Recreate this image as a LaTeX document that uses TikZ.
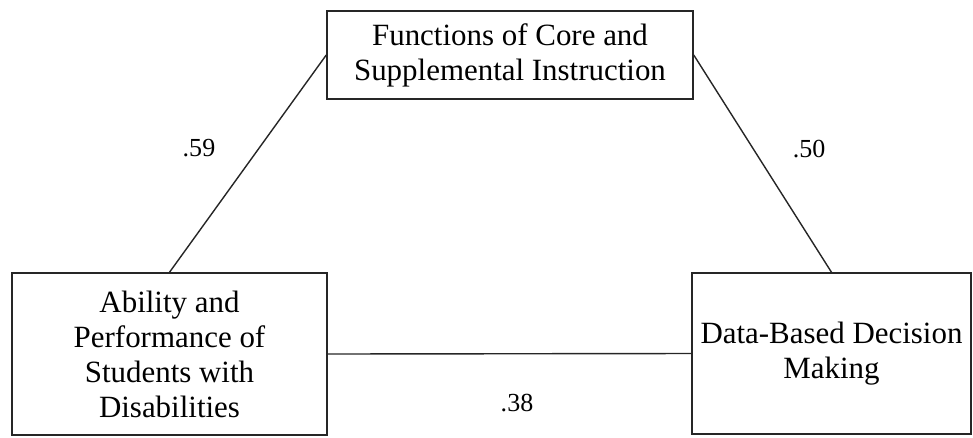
\documentclass[tikz,border=0pt]{standalone}
\usepackage{fontspec}
\setmainfont{Liberation Serif}
\usetikzlibrary{positioning}
\tikzset{>=latex}

\begin{document}
\begin{tikzpicture}[x=0.025cm,y=-0.025cm,line width=1pt,
  factor/.style={draw=black!85,align=center,inner sep=0pt,font=\fontsize{22}{24.9}\selectfont},
  weight/.style={inner sep=0pt,font=\fontsize{18.5}{20}\selectfont}]

\useasboundingbox (0,0) rectangle (973,437);

\node [factor,minimum width=9.15cm,minimum height=2.2cm] (inst) at (510,55) {Functions of Core and\\Supplemental Instruction};
\node [factor,minimum width=7.875cm,minimum height=4.05cm] (abil) at (169.5,354) {Ability and\\Performance of\\Students with\\Disabilities};
\node [factor,minimum width=6.975cm,minimum height=4.025cm] (data) at (831.5,353.5) {Data-Based Decision\\Making};

\node [weight] (w1) at (199,148) {.59};
\node [weight] (w2) at (809,149) {.50};
\node [weight] (w3) at (517,403) {.38};

\begin{scope}[draw=black!85]
\draw (inst.west) to (abil.north);
\draw (inst.east) to (data.north);
\draw (abil.east) to (data.west);
\end{scope}

\end{tikzpicture}
\end{document}
